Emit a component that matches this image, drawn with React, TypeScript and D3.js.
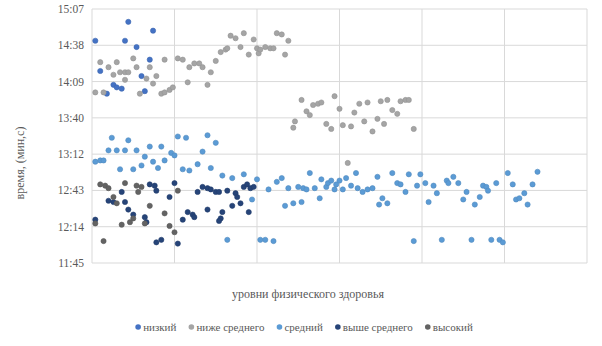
import React, { useEffect, useRef } from 'react';
import * as d3 from 'd3';

// [номер, время мм:сс как чч:мм]
const nizkiy: [number, string][] = [
  [2, '14:42'], [5, '14:18'], [9, '14:00'], [13, '14:07'], [15, '14:05'], [18, '14:04'],
  [20, '14:42'], [22, '14:57'], [27, '14:37'], [30, '14:14'], [32, '14:02'], [35, '14:27'],
  [37, '14:50'],
];

const nizheSrednego: [number, string][] = [
  [2, '14:01'], [7, '14:01'], [5, '14:25'], [10, '14:21'], [13, '14:15'], [15, '14:25'],
  [17, '14:17'], [20, '14:17'], [22, '14:17'], [20, '14:11'], [25, '14:28'], [27, '14:21'],
  [29, '14:00'], [33, '14:12'], [35, '14:21'], [37, '14:08'], [39, '14:14'], [42, '14:00'],
  [44, '14:01'], [47, '14:03'], [49, '14:05'], [44, '14:27'], [52, '14:28'], [55, '14:27'],
  [58, '14:09'], [59, '14:21'], [62, '14:24'], [65, '14:24'], [67, '14:21'], [70, '14:07'],
  [72, '14:17'], [75, '14:26'], [78, '14:33'], [81, '14:35'], [82, '14:36'], [84, '14:46'],
  [87, '14:44'], [90, '14:37'], [92, '14:48'], [95, '14:31'], [98, '14:43'], [100, '14:36'],
  [101, '14:32'], [102, '14:35'], [105, '14:37'], [108, '14:36'], [110, '14:36'], [112, '14:48'],
  [115, '14:47'], [117, '14:31'], [119, '14:42'],
  [122, '13:33'], [123, '13:38'], [127, '13:55'], [130, '13:46'], [132, '13:43'], [134, '13:51'],
  [137, '13:52'], [139, '13:53'], [142, '13:36'], [145, '13:32'], [147, '13:58'], [150, '13:48'],
  [152, '13:35'], [155, '13:05'], [157, '13:34'], [159, '13:45'], [162, '13:52'], [165, '13:38'],
  [167, '13:53'], [170, '13:30'], [173, '13:40'], [175, '13:54'], [177, '13:36'], [179, '13:55'],
  [182, '13:47'], [185, '13:44'], [187, '13:54'], [190, '13:55'], [192, '13:55'], [195, '13:32'],
];

const sredniy: [number, string][] = [
  [2, '13:06'], [5, '13:07'], [7, '13:07'], [10, '13:15'], [12, '13:25'], [15, '13:15'],
  [17, '13:00'], [20, '13:15'], [22, '13:23'], [25, '13:00'], [27, '13:15'], [30, '13:03'],
  [32, '13:10'], [35, '13:18'], [37, '13:06'], [40, '13:01'], [42, '13:18'], [44, '13:07'],
  [48, '13:13'], [50, '13:11'], [52, '13:26'], [55, '13:00'], [57, '13:25'], [59, '12:59'],
  [64, '13:04'], [67, '13:14'], [70, '13:27'], [72, '13:01'], [75, '13:21'], [79, '12:55'],
  [82, '12:04'], [85, '12:53'], [92, '12:56'], [97, '12:36'], [100, '12:52'], [102, '12:04'],
  [105, '12:04'], [107, '12:44'], [110, '12:03'], [112, '12:50'], [115, '12:53'], [117, '12:31'],
  [119, '12:45'], [122, '12:33'], [125, '12:46'], [127, '12:34'], [128, '12:45'], [130, '12:44'],
  [132, '12:57'], [135, '12:45'], [138, '12:37'], [139, '12:52'], [142, '12:46'], [143, '12:49'],
  [145, '12:51'], [147, '12:44'], [148, '12:48'], [150, '12:51'], [152, '12:44'], [154, '12:53'],
  [157, '12:47'], [160, '12:57'], [161, '12:45'], [164, '12:42'], [167, '12:44'], [170, '12:45'],
  [173, '12:54'], [174, '12:32'], [176, '12:37'], [179, '12:33'], [182, '12:57'], [185, '12:49'],
  [187, '12:48'], [190, '12:42'], [192, '12:56'], [195, '12:03'], [197, '12:47'], [199, '12:56'],
  [202, '12:49'], [204, '12:34'], [207, '12:47'], [209, '12:41'], [212, '12:04'], [215, '12:51'],
  [216, '12:49'], [219, '12:54'], [222, '12:49'], [225, '12:36'], [227, '12:42'], [230, '12:04'],
  [232, '12:32'], [235, '12:38'], [237, '12:47'], [239, '12:46'], [240, '12:43'], [242, '12:04'],
  [245, '12:49'], [247, '12:04'], [249, '12:02'], [252, '12:57'], [255, '12:48'], [257, '12:36'],
  [259, '12:37'], [262, '12:41'], [264, '12:32'], [267, '12:48'], [270, '12:58'],
];

const vysheSrednego: [number, string][] = [
  [2, '12:20'], [10, '12:35'], [13, '12:34'], [18, '12:42'], [20, '12:34'], [22, '12:28'],
  [25, '12:24'], [32, '12:22'], [33, '12:18'], [35, '12:48'], [38, '12:47'], [39, '12:43'],
  [39, '12:02'], [42, '12:04'], [47, '12:38'], [50, '12:49'], [52, '12:01'], [55, '12:20'],
  [58, '12:26'], [61, '12:24'], [62, '12:22'], [64, '12:42'], [67, '12:46'], [70, '12:28'],
  [70, '12:45'], [72, '12:44'], [75, '12:42'], [77, '12:42'], [78, '12:21'], [77, '12:19'],
  [79, '12:26'], [82, '12:43'], [85, '12:31'], [87, '12:41'], [88, '12:38'], [90, '12:33'],
  [92, '12:46'], [94, '12:48'], [95, '12:26'], [96, '12:45'], [98, '12:46'],
];

const vysokiy: [number, string][] = [
  [2, '12:17'], [5, '12:48'], [8, '12:47'], [10, '12:45'], [7, '12:03'], [13, '12:38'],
  [15, '12:33'], [18, '12:16'], [20, '12:49'], [23, '12:18'], [25, '12:21'], [27, '12:47'],
  [28, '12:42'], [30, '12:46'], [32, '12:17'], [35, '12:31'], [44, '12:25'], [47, '12:15'],
  [50, '12:10'], [52, '12:43'],
];

const seriesNames = ['низкий', 'ниже среднего', 'средний', 'выше среднего', 'высокий'];
const seriesColors = ['#4472C4', '#A5A5A5', '#5B9BD5', '#264478', '#636363'];
const seriesData = [nizkiy, nizheSrednego, sredniy, vysheSrednego, vysokiy];

// деления оси: 0.49 … 0.63 суток
const yTicks = [0.49, 0.51, 0.53, 0.55, 0.57, 0.59, 0.61, 0.63];
const xTicks = [0, 50, 100, 150, 200, 250, 300];

const toDay = (s: string) => {
  const [h, m] = s.split(':').map(Number);
  return (h * 60 + m) / 1440;
};

const fmtTime = (d: number) => {
  const mins = Math.floor(d * 1440 + 1e-6);
  const h = Math.floor(mins / 60);
  const m = mins % 60;
  return `${h}:${m < 10 ? '0' + m : m}`;
};

const App: React.FC = () => {
  const svgRef = useRef<SVGSVGElement | null>(null);

  useEffect(() => {
    if (!svgRef.current) return;
    const svg = d3.select(svgRef.current);
    svg.selectAll('*').remove();

    const width = 602;
    const height = 346;
    const left = 92, right = 587, top = 9, bottom = 263;
    const font = '"Liberation Serif", "Times New Roman", serif';

    const x = d3.scaleLinear().domain([0, 300]).range([left, right]);
    const y = d3.scaleLinear().domain([0.49, 0.63]).range([bottom, top]);

    svg.attr('width', width).attr('height', height);
    svg.append('rect').attr('width', width).attr('height', height).attr('fill', '#fff');

    const grid = svg.append('g');
    grid.selectAll('.hg')
      .data(yTicks)
      .enter().append('line')
      .attr('x1', left).attr('x2', right)
      .attr('y1', d => y(d)).attr('y2', d => y(d))
      .attr('stroke', '#d9d9d9').attr('stroke-width', 1);
    grid.selectAll('.vg')
      .data(xTicks)
      .enter().append('line')
      .attr('x1', d => x(d)).attr('x2', d => x(d))
      .attr('y1', top).attr('y2', bottom)
      .attr('stroke', '#d9d9d9').attr('stroke-width', 1);

    svg.append('g')
      .selectAll('text')
      .data(yTicks)
      .enter().append('text')
      .attr('x', left - 8)
      .attr('y', d => y(d) + 4)
      .attr('text-anchor', 'end')
      .attr('font-family', font)
      .attr('font-size', 11.5)
      .attr('fill', '#595959')
      .text(d => fmtTime(d));

    seriesData.forEach((data, i) => {
      svg.append('g')
        .selectAll('circle')
        .data(data)
        .enter().append('circle')
        .attr('cx', d => x(d[0]))
        .attr('cy', d => y(toDay(d[1])))
        .attr('r', 2.6)
        .attr('fill', seriesColors[i])
        .attr('stroke', d3.color(seriesColors[i])!.darker(0.3).toString())
        .attr('stroke-width', 0.6);
    });

    svg.append('text')
      .attr('transform', `translate(24,163) rotate(-90)`)
      .attr('text-anchor', 'middle')
      .attr('font-family', font)
      .attr('font-size', 12)
      .attr('fill', '#595959')
      .text('время, (мин,с)');

    svg.append('text')
      .attr('x', 308)
      .attr('y', 298)
      .attr('text-anchor', 'middle')
      .attr('font-family', font)
      .attr('font-size', 12)
      .attr('fill', '#595959')
      .text('уровни физического здоровья');

    const legend = svg.append('g');
    let cursor = 0;
    seriesNames.forEach((name, i) => {
      const item = legend.append('g').attr('transform', `translate(${cursor},0)`);
      item.append('circle').attr('cx', 3).attr('cy', 0).attr('r', 2.8).attr('fill', seriesColors[i]);
      const t = item.append('text')
        .attr('x', 8)
        .attr('y', 4)
        .attr('font-family', font)
        .attr('font-size', 11)
        .attr('fill', '#595959')
        .text(name);
      const w = (t.node() as SVGTextElement).getComputedTextLength();
      cursor += 8 + w + 12;
    });
    const total = cursor - 12;
    legend.attr('transform', `translate(${304 - total / 2},327)`);
  }, []);

  return <svg ref={svgRef} style={{ display: 'block', position: 'absolute', left: 0, top: 0 }}></svg>;
};

export default App;
